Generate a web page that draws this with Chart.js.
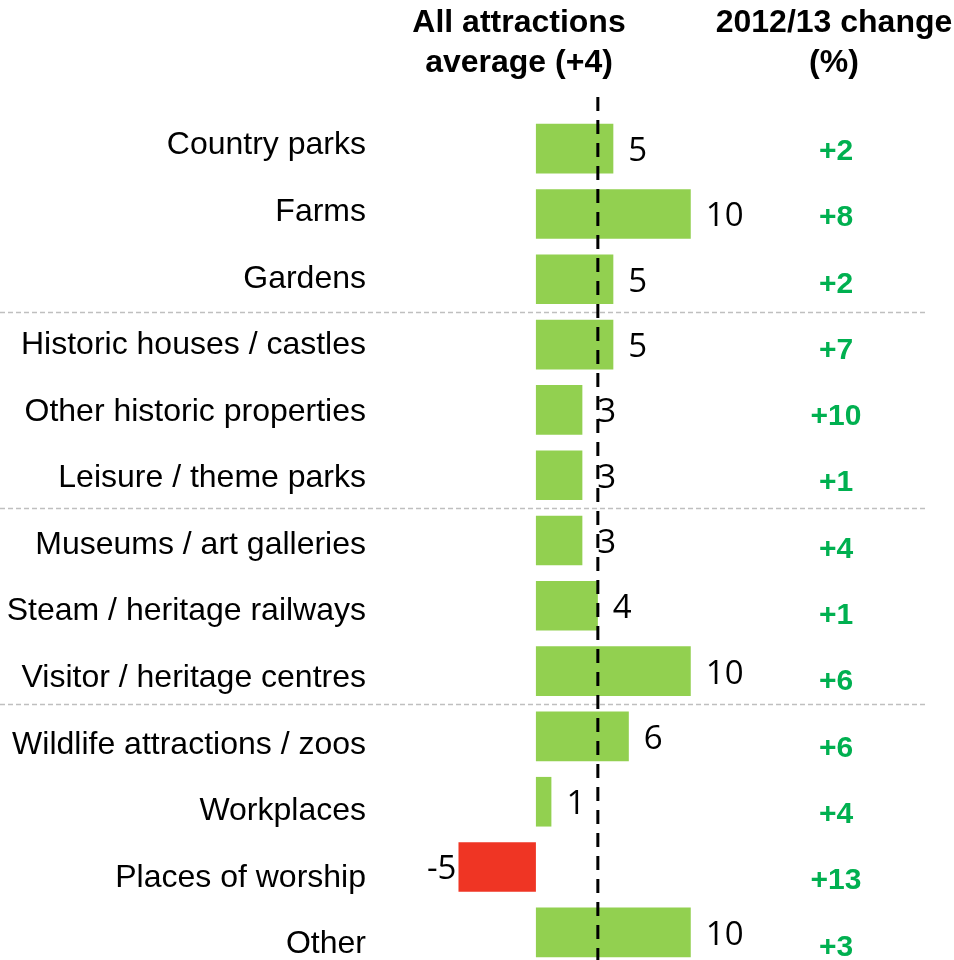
<!DOCTYPE html>
<html lang="en">
<head>
    <meta charset="UTF-8">
    <title>Visits change by attraction category</title>
    <script src="https://cdn.jsdelivr.net/npm/chart.js"></script>
    <style>
        html, body { margin: 0; padding: 0; background: #fff; overflow: hidden; }
        canvas { display: block; }
    </style>
</head>
<body>
    <canvas id="attractionsChart" width="954" height="966"></canvas>

    <script>
        // Visits change by category, with the 2012/13 change shown on the right
        const categories = [
            "Country parks", "Farms", "Gardens", "Historic houses / castles",
            "Other historic properties", "Leisure / theme parks", "Museums / art galleries",
            "Steam / heritage railways", "Visitor / heritage centres",
            "Wildlife attractions / zoos", "Workplaces", "Places of worship", "Other"
        ];
        const changeValues = [5, 10, 5, 5, 3, 3, 3, 4, 10, 6, 1, -5, 10];
        const priorChange = ["+2", "+8", "+2", "+7", "+10", "+1", "+4", "+1", "+6", "+6", "+4", "+13", "+3"];
        const averageChange = 4;
        // group breaks come after these rows
        const groupBreaks = [2, 5, 8];

        const GREEN = "#92d050";
        const RED = "#ef3524";

        // headings, category names, dashed average line, group separators and value labels
        const overlayPlugin = {
            id: "overlay",
            afterDatasetsDraw(chart) {
                const ctx = chart.ctx;
                const x = chart.scales.x;
                const y = chart.scales.y;
                ctx.save();

                // group separators
                ctx.strokeStyle = "#bfbfbf";
                ctx.lineWidth = 1.5;
                ctx.setLineDash([5, 3]);
                groupBreaks.forEach(i => {
                    const py = Math.round((y.getPixelForValue(i) + y.getPixelForValue(i + 1)) / 2) + 0.5;
                    ctx.beginPath();
                    ctx.moveTo(0, py);
                    ctx.lineTo(928, py);
                    ctx.stroke();
                });

                // average line
                const ax = x.getPixelForValue(averageChange);
                ctx.strokeStyle = "#000";
                ctx.lineWidth = 3;
                ctx.setLineDash([14, 9]);
                ctx.beginPath();
                ctx.moveTo(ax, 97);
                ctx.lineTo(ax, chart.height);
                ctx.stroke();
                ctx.setLineDash([]);

                ctx.textBaseline = "middle";

                // category names, right aligned in the label column
                ctx.fillStyle = "#000";
                ctx.font = "32px 'Liberation Sans', Arial";
                ctx.textAlign = "right";
                categories.forEach((c, i) => {
                    ctx.fillText(c, 366, y.getPixelForValue(i) - 3 + i * 1.25);
                });

                // value labels next to bars
                ctx.font = "33px 'Open Sans'";
                changeValues.forEach((v, i) => {
                    const py = y.getPixelForValue(i) + 3;
                    if (v >= 0) {
                        ctx.textAlign = "left";
                        ctx.fillText(String(v), x.getPixelForValue(v) + 15, py);
                    } else {
                        ctx.textAlign = "right";
                        ctx.fillText(String(v), x.getPixelForValue(v) - 2, py);
                    }
                });

                // 2012/13 change column
                ctx.fillStyle = "#00b050";
                ctx.font = "bold 30px 'Liberation Sans', Arial";
                ctx.textAlign = "center";
                priorChange.forEach((t, i) => {
                    ctx.fillText(t, 836, y.getPixelForValue(i) + 3 + i);
                });

                // headings
                ctx.fillStyle = "#000";
                ctx.font = "bold 32px 'Liberation Sans', Arial";
                ctx.fillText("All attractions", 519, 23);
                ctx.fillText("average (+4)", 519, 63);
                ctx.fillText("2012/13 change", 834, 23);
                ctx.fillText("(%)", 834, 63);

                ctx.restore();
            }
        };

        new Chart(document.getElementById("attractionsChart"), {
            type: "bar",
            data: {
                labels: categories,
                datasets: [{
                    data: changeValues,
                    backgroundColor: changeValues.map(v => v < 0 ? RED : GREEN),
                    borderWidth: 0,
                    barPercentage: 0.76,
                    categoryPercentage: 1
                }]
            },
            options: {
                indexAxis: "y",
                responsive: false,
                animation: false,
                // top padding leaves room for the headings
                layout: { padding: { top: 116, bottom: 1, left: 0, right: 0 } },
                plugins: { legend: { display: false }, tooltip: { enabled: false } },
                scales: {
                    x: {
                        display: false,
                        min: -6,
                        max: 27
                    },
                    y: {
                        afterFit(scale) {
                            // fixed label column; names are drawn by the overlay plugin
                            scale.width = 443;
                            scale.paddingTop = 0;
                            scale.paddingBottom = 0;
                        },
                        grid: { display: false, drawTicks: false },
                        border: { display: false },
                        ticks: { display: false }
                    }
                }
            },
            plugins: [overlayPlugin]
        });
    </script>
</body>
</html>
